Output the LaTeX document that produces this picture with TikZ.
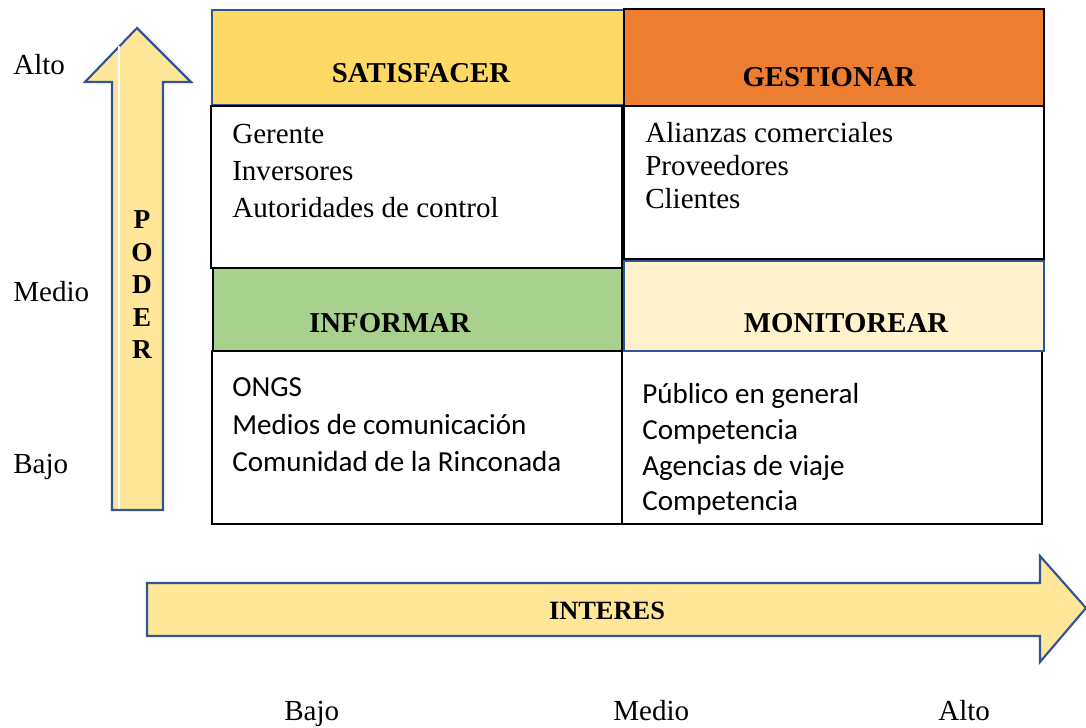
\documentclass[tikz,border=0pt]{standalone}
\usepackage{fontspec}
\setmainfont{Liberation Serif}
\newfontfamily\calfont{Carlito}
\definecolor{arrowfill}{HTML}{FFE699}
\definecolor{arrowline}{HTML}{2F5597}
\definecolor{satfill}{HTML}{FFD966}
\definecolor{gesfill}{HTML}{ED7D31}
\definecolor{inffill}{HTML}{A9D18E}
\definecolor{monfill}{HTML}{FFF2CC}
\tikzset{
  bigarrow/.style={fill=arrowfill, draw=arrowline, line width=1.6pt, line join=miter},
  bodybox/.style={fill=white, draw=black, line width=1.2pt},
  headtxt/.style={anchor=base, inner sep=0pt, font=\fontsize{21.6}{26}\selectfont\bfseries},
  serifitem/.style={anchor=base west, inner sep=0pt, font=\fontsize{21.8}{26}\selectfont},
  calitem/.style={anchor=base west, inner sep=0pt, font=\calfont\fontsize{21.8}{26}\selectfont},
  axislbl/.style={anchor=base west, inner sep=0pt, font=\fontsize{21.8}{26}\selectfont},
  podertxt/.style={anchor=base, inner sep=0pt, font=\fontsize{20.5}{24}\selectfont\bfseries}
}
\begin{document}
\begin{tikzpicture}[x=0.75pt, y=-0.75pt]
\useasboundingbox (0,0) rectangle (1086,728);
% vertical arrow (PODER)
\draw[bigarrow] (112,510) -- (112,82) -- (85,82) -- (137,28) -- (191,82) -- (163,82) -- (163,510) -- cycle;
\draw[white, line width=0.9pt] (119,46) -- (119,509);
\node[podertxt] (p1) at (142,228) {P};
\node[podertxt] (p2) at (142,261) {O};
\node[podertxt] (p3) at (142,293) {D};
\node[podertxt] (p4) at (142,326) {E};
\node[podertxt] (p5) at (142,358) {R};
% horizontal arrow (INTERES)
\draw[bigarrow] (147,583) -- (1040,583) -- (1040,556) -- (1086,608) -- (1040,662) -- (1040,636) -- (147,636) -- cycle;
\node[headtxt, font=\fontsize{19.8}{24}\selectfont\bfseries] (interes) at (607,619) {INTERES};
% SATISFACER
\draw[fill=satfill, draw=arrowline, line width=1pt] (212,10) rectangle (624,105);
\draw[bodybox] (211,106) rectangle (622,268);
\node[headtxt] (sat) at (421,82) {SATISFACER};
\node[serifitem] (s1) at (232,143) {Gerente};
\node[serifitem] (s2) at (232,180) {Inversores};
\node[serifitem] (s3) at (232,217) {Autoridades de control};
% GESTIONAR
\draw[fill=gesfill, draw=black, line width=1.6pt] (624,9) rectangle (1044,106);
\draw[bodybox, line width=1.6pt] (624,106) rectangle (1044,259);
\node[headtxt] (ges) at (829,86) {GESTIONAR};
\node[serifitem] (g1) at (645,142) {Alianzas comerciales};
\node[serifitem] (g2) at (645,175) {Proveedores};
\node[serifitem] (g3) at (645,208) {Clientes};
% INFORMAR
\draw[bodybox] (212,351) rectangle (622,524);
\draw[fill=inffill, draw=black, line width=1.6pt] (213,268) rectangle (622,351);
\node[headtxt] (inf) at (390,332) {INFORMAR};
\node[calitem] (i1) at (232,396) {ONGS};
\node[calitem] (i2) at (232,434) {Medios de comunicación};
\node[calitem] (i3) at (232,471) {Comunidad de la Rinconada};
% MONITOREAR
\draw[bodybox] (622,351) rectangle (1042,524);
\draw[fill=monfill, draw=arrowline, line width=1.3pt] (624,261) rectangle (1044,351);
\node[headtxt] (mon) at (846,332) {MONITOREAR};
\node[calitem] (m1) at (642,403) {Público en general};
\node[calitem] (m2) at (642,439) {Competencia};
\node[calitem] (m3) at (642,475) {Agencias de viaje};
\node[calitem] (m4) at (642,510) {Competencia};
% axis labels
\node[axislbl] (yalto) at (13,74) {Alto};
\node[axislbl] (ymedio) at (13,301) {Medio};
\node[axislbl] (ybajo) at (13,473) {Bajo};
\node[axislbl] (xbajo) at (284,720) {Bajo};
\node[axislbl] (xmedio) at (613,720) {Medio};
\node[axislbl] (xalto) at (938,720) {Alto};
\end{tikzpicture}
\end{document}
